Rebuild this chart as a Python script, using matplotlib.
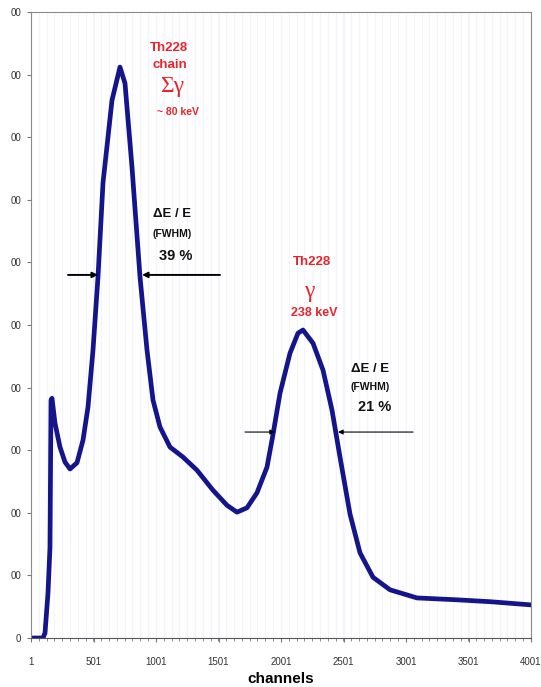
import numpy as np
import matplotlib.pyplot as plt
from matplotlib.ticker import MultipleLocator, FuncFormatter

# spectrum read as (channel, counts) pairs
channels = [1, 60, 97, 113, 137, 153, 161, 169, 193, 233, 273, 313, 369, 417,
            457, 497, 537, 577, 649, 713, 753, 809, 873, 929, 977, 1033, 1113,
            1217, 1329, 1457, 1569, 1649, 1729, 1809, 1889, 1937, 1993, 2073,
            2137, 2177, 2257, 2337, 2409, 2473, 2553, 2633, 2737, 2873, 3089,
            3409, 3673, 3993]
counts = [0, 0, 0, 8, 72, 145, 380, 383, 343, 305, 281, 270, 280, 316,
          369, 460, 577, 727, 859, 912, 886, 752, 577, 460, 380, 337, 305,
          289, 268, 236, 212, 201, 208, 232, 273, 325, 391, 455,
          487, 492, 471, 428, 364, 289, 198, 136, 97, 77, 64,
          61, 58, 53]

y_ticks = list(range(0, 1001, 100))
x_ticks = [1, 501, 1001, 1501, 2001, 2501, 3001, 3501, 4001]

red = '#e8232b'
navy = '#14148c'
dark = '#111111'

fig = plt.figure(figsize=(5.41, 6.87), dpi=100)
ax = fig.add_axes([31 / 541, 49 / 687, 500 / 541, 626 / 687])

ax.plot(channels, counts, color=navy, linewidth=3.4, solid_joinstyle='round')

ax.set_xlim(1, 4001)
ax.set_ylim(0, 1000)
ax.set_xticks(x_ticks)
ax.set_yticks(y_ticks)
# only the last digits of the count labels are shown
ax.yaxis.set_major_formatter(FuncFormatter(lambda v, pos: '0' if v == 0 else '00'))
ax.xaxis.set_minor_locator(MultipleLocator(62.5))
ax.grid(axis='x', which='both', color='#f4f5fa', linewidth=0.8)
ax.set_axisbelow(True)

for side in ['top', 'right', 'left']:
    ax.spines[side].set_color('#8a8a8a')
ax.spines['bottom'].set_color('#555555')
ax.tick_params(axis='both', labelsize=7, labelcolor='#333333',
               color='#777777', length=3, direction='out',
               labelfontfamily='Liberation Sans')
ax.tick_params(axis='x', pad=11)
ax.tick_params(axis='y', pad=4)
ax.tick_params(axis='x', which='minor', length=2, color='#777777')
ax.set_xlabel('channels', fontsize=11, fontweight='bold',
              family='Liberation Sans', labelpad=3)

txt = dict(ha='center', va='center', family='Liberation Sans', fontweight='bold')

# Th228 chain sum peak
ax.text(1105, 942, 'Th228', color=red, fontsize=9.5, **txt)
ax.text(1113, 915, 'chain', color=red, fontsize=9.5, **txt)
ax.text(1129, 881, 'Σγ', color=red, fontsize=17, family='Liberation Serif',
        ha='center', va='center')
ax.text(1177, 840, '~ 80 keV', color=red, fontsize=7.5, **txt)

ax.text(1129, 677, 'ΔE / E', color=dark, fontsize=9.5, **txt)
ax.text(1129, 645, '(FWHM)', color=dark, fontsize=7.5, **txt)
ax.text(1161, 610, '39 %', color=dark, fontsize=10.5, **txt)

arrow1 = dict(arrowstyle='-|>', color='black', lw=1.4, mutation_scale=8,
              shrinkA=0, shrinkB=0)
ax.annotate('', xy=(537, 580), xytext=(297, 580), arrowprops=arrow1)
ax.annotate('', xy=(889, 580), xytext=(1513, 580), arrowprops=arrow1)

# Th228 238 keV line
ax.text(2249, 600, 'Th228', color=red, fontsize=9.5, **txt)
ax.text(2225, 553, 'γ', color=red, fontsize=17, family='Liberation Serif',
        ha='center', va='center')
ax.text(2265, 519, '238 keV', color=red, fontsize=9, **txt)

ax.text(2713, 430, 'ΔE / E', color=dark, fontsize=9.5, **txt)
ax.text(2713, 401, '(FWHM)', color=dark, fontsize=7.5, **txt)
ax.text(2753, 369, '21 %', color=dark, fontsize=10.5, **txt)

arrow2 = dict(arrowstyle='-|>', color='black', lw=0.8, mutation_scale=7,
              shrinkA=0, shrinkB=0)
ax.annotate('', xy=(1953, 329), xytext=(1713, 329), arrowprops=arrow2)
ax.annotate('', xy=(2457, 329), xytext=(3057, 329), arrowprops=arrow2)

fig.savefig('out.png', dpi=100)
